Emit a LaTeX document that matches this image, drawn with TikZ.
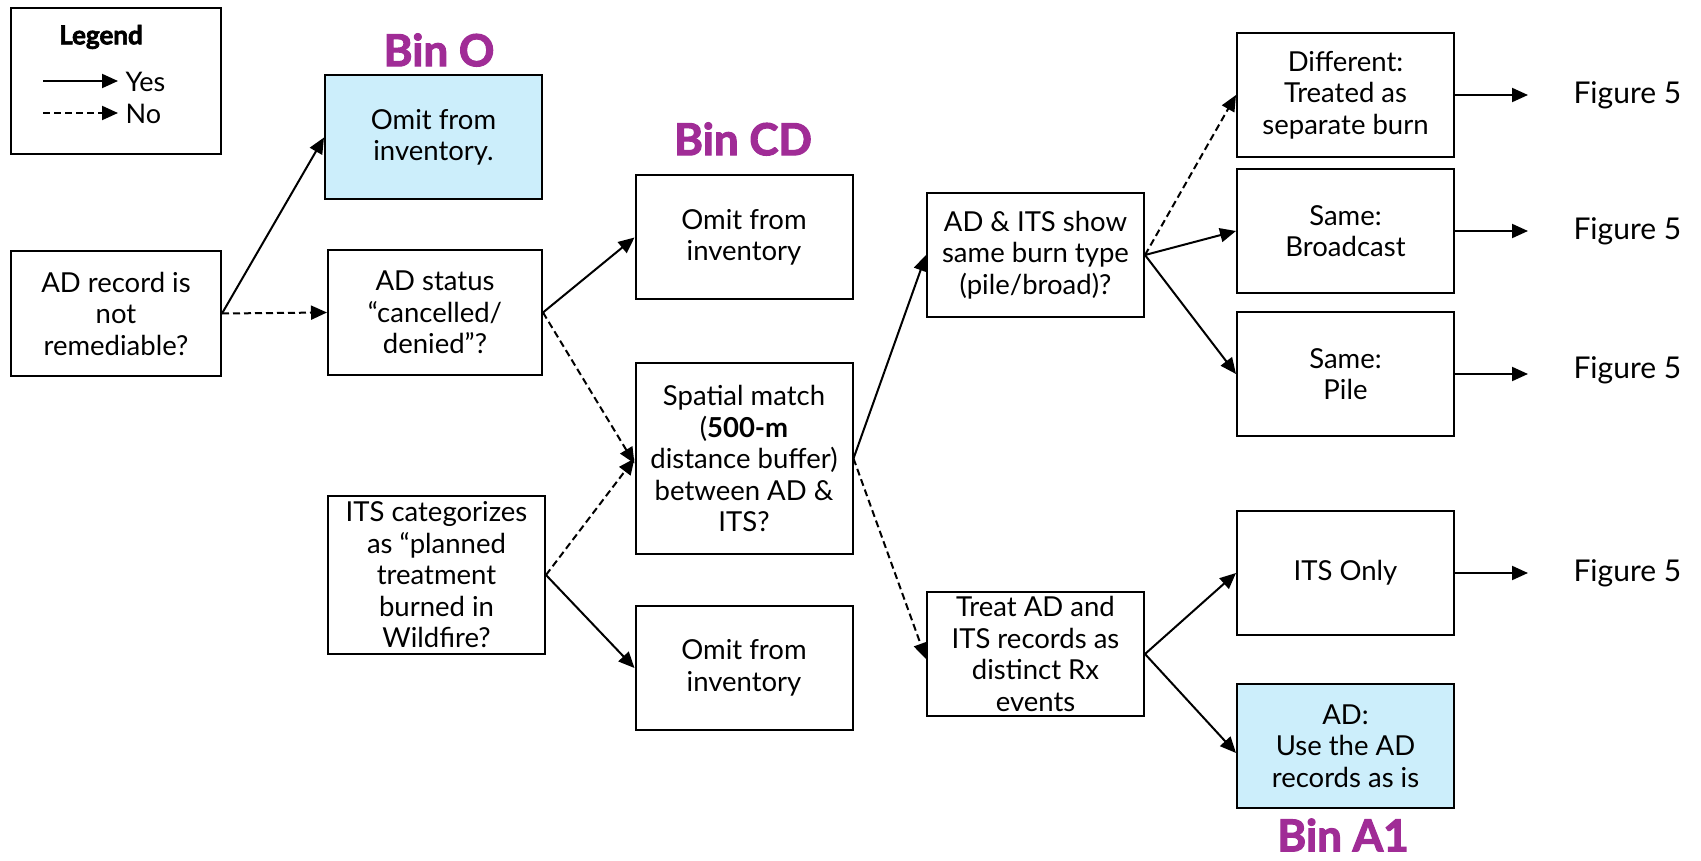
\documentclass[tikz,border=0pt]{standalone}
\usepackage{fontspec}
\setmainfont{Lato}
\newfontfamily\heavyfont{Lato}[BoldFeatures={FakeBold=2.5}]
\usetikzlibrary{arrows.meta}
\definecolor{binpurple}{RGB}{160,44,150}
\definecolor{binblue}{RGB}{204,238,251}
\tikzset{
    box/.style={draw,line width=2pt,minimum width=217pt,minimum height=124pt,align=center,inner sep=2pt,
        font=\fontsize{27.5}{31.5}\selectfont},
    binlabel/.style={text=binpurple,font=\fontsize{44}{44}\selectfont\heavyfont\bfseries},
    yes/.style={-{Triangle[length=16pt,width=14pt]},line width=2pt},
    no/.style={yes,dash pattern=on 7pt off 4pt},
}
\begin{document}
\begin{tikzpicture}[x=1pt,y=-1pt]
    \useasboundingbox (0,0) rectangle (1701,861);
    \node[draw,line width=2pt,minimum width=210pt,minimum height=146pt] (legend) at (116,81) {};
    \node[font=\fontsize{26}{26}\selectfont\heavyfont\bfseries] (legtitle) at (101,37) {Legend};
    \coordinate (yesa) at (43,81);
    \coordinate (yesb) at (118,81);
    \coordinate (noa) at (43,113);
    \coordinate (nob) at (118,113);
    \node[anchor=west,font=\fontsize{27}{27}\selectfont] (yestext) at (122,82) {Yes};
    \node[anchor=west,font=\fontsize{27}{27}\selectfont] (notext) at (122,114) {No};
    \draw[yes] (yesa) -- (yesb);
    \draw[no] (noa) -- (nob);

    \node[box,fill=binblue] (omito) at (433.5,137.5) {Omit from\\inventory.};
    \node[binlabel] (bino) at (439,50) {Bin O};
    \node[box,minimum width=210pt] (adrec) at (116,313.5) {AD record is\\not\\remediable?};
    \node[box,minimum width=214pt] (adstat) at (435,312.5) {AD status\\“cancelled/\\denied”?};
    \node[box,minimum height=158pt] (itscat) at (436.5,575) {ITS categorizes\\as “planned\\treatment\\burned in\\Wildfire?};
    \node[box] (omitcd) at (744,237.5) {Omit from\\inventory};
    \node[binlabel] (bincd) at (743,139) {Bin CD};
    \node[box,minimum height=191pt] (spatial) at (744,458.5) {Spatial match\\(\textbf{500-m}\\distance buffer)\\between AD \&\\ITS?};
    \node[box] (omitits) at (744,668) {Omit from\\inventory};
    \node[box] (sametype) at (1035.5,255) {AD \& ITS show\\same burn type\\(pile/broad)?};
    \node[box] (treat) at (1035.5,654) {Treat AD and\\ITS records as\\distinct Rx\\events};
    \node[box] (diff) at (1345.5,95) {Different:\\Treated as\\separate burn};
    \node[box] (bcast) at (1345.5,231) {Same:\\Broadcast};
    \node[box] (pile) at (1345.5,374) {Same:\\Pile};
    \node[box] (itsonly) at (1345.5,573) {ITS Only};
    \node[box,fill=binblue] (aduse) at (1345.5,746) {AD:\\Use the AD\\records as is};
    \node[binlabel] (bina) at (1343,835) {Bin A1};
    \foreach \n/\y in {diff/95,bcast/231,pile/370,itsonly/573}
        {\node[anchor=west,font=\fontsize{30}{30}\selectfont] (fig\n) at (1570,\y) {Figure 5};
         \draw[yes] (\n.east) -- ([xshift=-42pt]\n.east -| fig\n.west);
        }

    \draw[yes] (adrec.east) -- (omito.west);
    \draw[no] (adrec.east) -- (adstat.west);
    \draw[yes] (adstat.east) -- (omitcd.west);
    \draw[no] (adstat.east) -- ([yshift=-5pt]spatial.west);
    \draw[no] (itscat.east) -- (spatial.west);
    \draw[yes] (itscat.east) -- (omitits.west);
    \draw[yes] (spatial.east) -- (sametype.west);
    \draw[no] (spatial.east) -- ([yshift=-5pt]treat.west);
    \draw[no] (sametype.east) -- (diff.west);
    \draw[yes] (sametype.east) -- (bcast.west);
    \draw[yes] (sametype.east) -- (pile.west);
    \draw[yes] (treat.east) -- (itsonly.west);
    \draw[yes] (treat.east) -- ([yshift=-7pt]aduse.west);
\end{tikzpicture}
\end{document}
